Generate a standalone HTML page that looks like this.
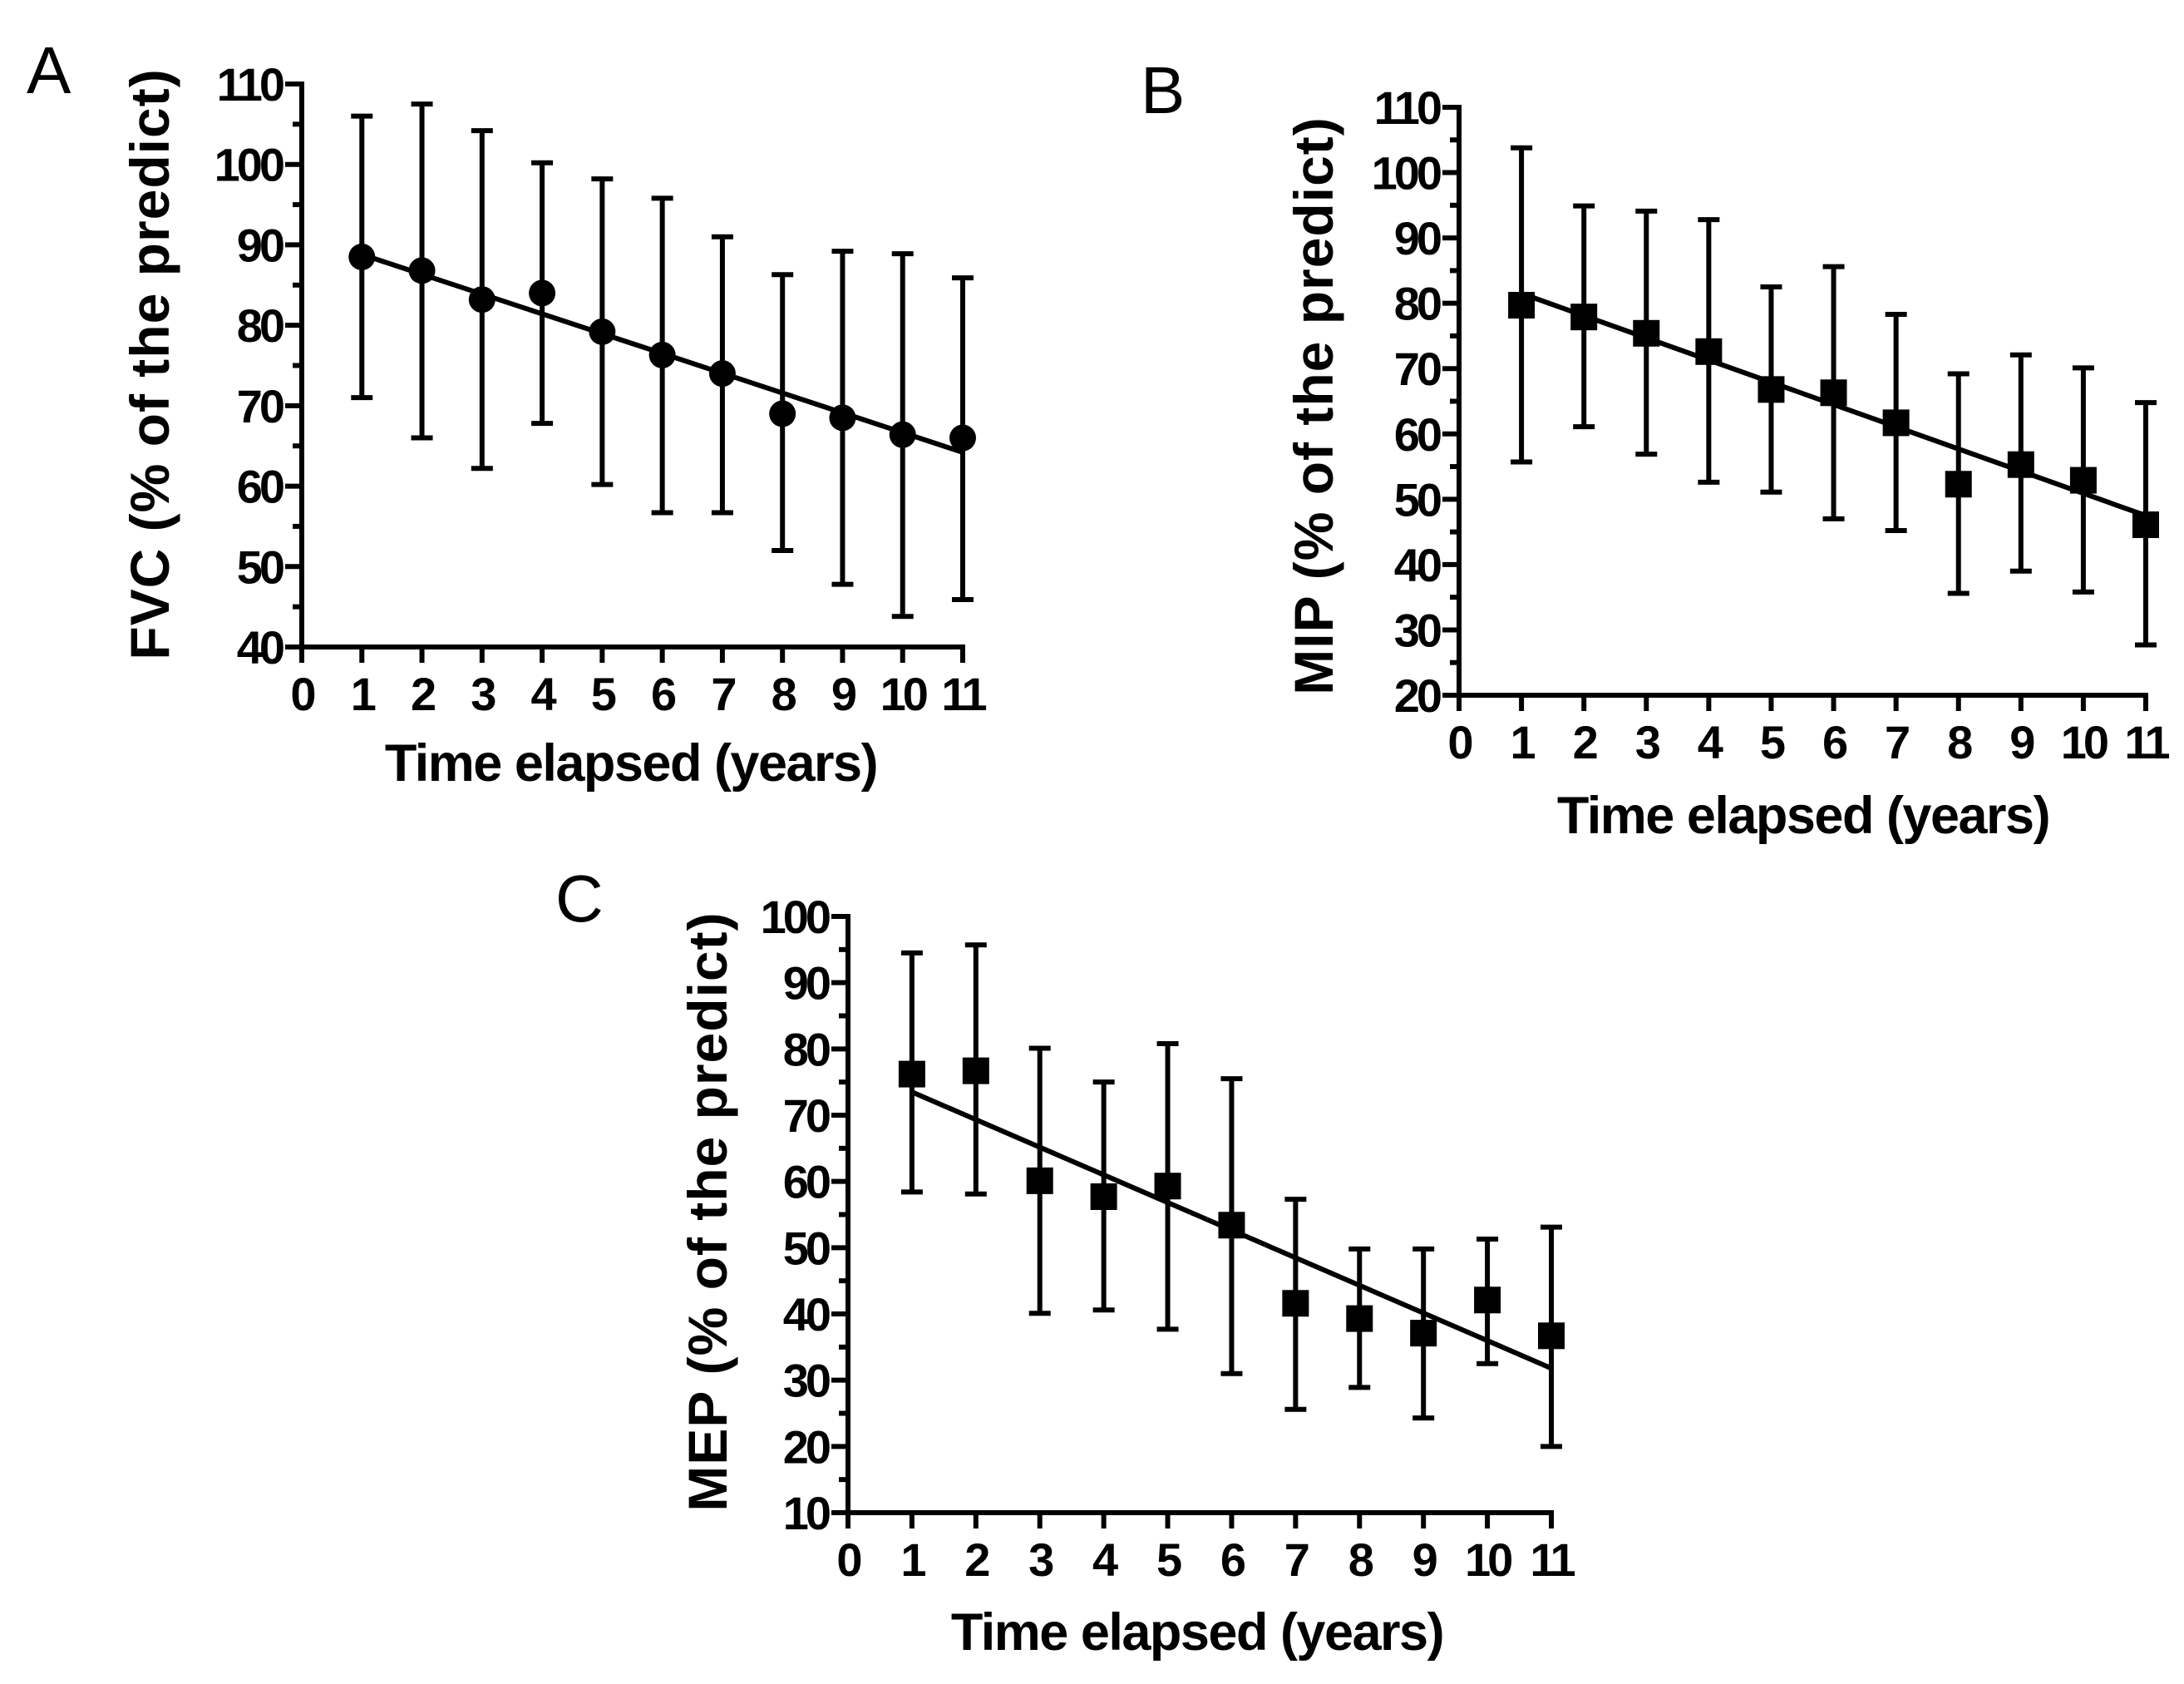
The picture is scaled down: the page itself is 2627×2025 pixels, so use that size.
<!DOCTYPE html>
<html><head><meta charset="utf-8"><style>
html,body{margin:0;padding:0;background:#fff;}
svg{display:block;font-family:"Liberation Sans",Arial,sans-serif;}
</style></head><body>
<svg id="fig" width="2627" height="2025" viewBox="0 0 2627 2025" xmlns="http://www.w3.org/2000/svg"></svg>
<script>
const years = [1,2,3,4,5,6,7,8,9,10,11];
const xTicks = [0,1,2,3,4,5,6,7,8,9,10,11];
const fvcMean = [88.5,86.8,83.2,84,79.2,76.3,74,69,68.5,66.4,66];
const fvcUpper = [106,107.5,104.2,100.2,98.2,95.8,91,86.3,89.2,88.9,85.9];
const fvcLower = [71,66,62.2,67.8,60.2,56.7,56.7,52,47.8,43.8,45.9];
const fvcFit = [88.8,64.2];
const fvcTicks = [40,50,60,70,80,90,100,110];
const mipMean = [79.7,77.9,75.4,72.6,66.8,66.3,61.7,52.3,55.3,52.9,46.1];
const mipUpper = [103.8,94.9,94.1,92.8,82.5,85.6,78.3,69.2,72.1,70.1,64.8];
const mipLower = [55.7,61.1,56.9,52.6,51.1,47,45.2,35.6,39,35.8,27.7];
const mipFit = [81.5,47.5];
const mipTicks = [20,30,40,50,60,70,80,90,100,110];
const mepMean = [76.2,76.7,60.1,57.7,59.3,53.4,41.6,39.3,37.1,42.1,36.7];
const mepUpper = [94.5,95.7,80.1,75,80.8,75.5,57.3,49.8,49.8,51.3,53.1];
const mepLower = [58.4,58.1,40.1,40.6,37.7,31,25.6,28.9,24.3,32.5,20];
const mepFit = [73.5,31.8];
const mepTicks = [10,20,30,40,50,60,70,80,90,100];

const NS="http://www.w3.org/2000/svg";
const svg=document.getElementById('fig');
function mk(tag,attrs,parent){const e=document.createElementNS(NS,tag);for(const k in attrs)e.setAttribute(k,attrs[k]);(parent||svg).appendChild(e);return e;}

function panel(p){
  const g=mk('g',{});
  
  
  const ymin=p.ticks[0], ymax=p.ticks[p.ticks.length-1];
  const X=v=>p.x0+(p.x11-p.x0)*v/11;
  const Y=v=>p.yb+(p.yt-p.yb)*(v-ymin)/(ymax-ymin);
  const L=mk('text',{x:p.lx,y:p.ly,'font-size':80,fill:'#000'},g);L.textContent=p.letter;
  
  
  const ax=mk('g',{stroke:'#000','stroke-width':6,fill:'none'},g);
  
  
  mk('line',{x1:p.x0,y1:p.yt-3,x2:p.x0,y2:p.yb+3},ax);
  mk('line',{x1:p.x0-20,y1:p.yb,x2:p.x11+3,y2:p.yb},ax);
  for(const t of xTicks){mk('line',{x1:X(t),y1:p.yb,x2:X(t),y2:p.yb+19},ax);
    const tx=mk('text',{x:X(t),y:p.yb+76,'font-size':56,'font-weight':'bold','text-anchor':'middle',fill:'#000',stroke:'none','letter-spacing':'-4'},g);tx.textContent=t;
    
    }
  for(let i=0;i<p.ticks.length;i++){const t=p.ticks[i];
    mk('line',{x1:p.x0-20,y1:Y(t),x2:p.x0,y2:Y(t)},ax);
    if(i<p.ticks.length-1) mk('line',{x1:p.x0-11,y1:Y(t+5),x2:p.x0,y2:Y(t+5)},ax);
    const ty=mk('text',{x:p.x0-24,y:Y(t)+20,'font-size':56,'font-weight':'bold','text-anchor':'end',fill:'#000','letter-spacing':'-4'},g);ty.textContent=t;
    
    }
  const xt=mk('text',{x:p.xtx,y:p.xty,'font-size':63,'font-weight':'bold','text-anchor':'middle',fill:'#000','letter-spacing':'-1.5'},g);xt.textContent='Time elapsed (years)';
  
  
  const yt=mk('text',{x:0,y:0,'font-size':66,'font-weight':'bold','text-anchor':'middle',fill:'#000','letter-spacing':'1',transform:`translate(${p.ytx},${p.yty}) rotate(-90)`},g);yt.textContent=p.ytitle;
  
  
  const fl=mk('line',{x1:X(1),y1:Y(p.fit[0]),x2:X(11),y2:Y(p.fit[1]),stroke:'#000','stroke-width':6},g);
  
  
  for(let i=0;i<years.length;i++){const x=X(years[i]);
    const eb=mk('g',{stroke:'#000','stroke-width':6},g);
    
    
    mk('line',{x1:x,y1:Y(p.up[i]),x2:x,y2:Y(p.lo[i])},eb);
    mk('line',{x1:x-13,y1:Y(p.up[i]),x2:x+13,y2:Y(p.up[i])},eb);
    mk('line',{x1:x-13,y1:Y(p.lo[i]),x2:x+13,y2:Y(p.lo[i])},eb);
    let m;
    if(p.shape==='circle') m=mk('circle',{cx:x,cy:Y(p.mean[i]),r:16,fill:'#000'},g);
    else m=mk('rect',{x:x-16,y:Y(p.mean[i])-16,width:32,height:32,fill:'#000'},g);
    
    
  }
}
panel({key:'a',letter:'A',lx:32,ly:112,x0:363,x11:1158,yb:778,yt:101,ticks:fvcTicks,mean:fvcMean,up:fvcUpper,lo:fvcLower,fit:fvcFit,shape:'circle',ytitle:'FVC (% of the predict)',ytx:203,yty:438,xtx:759,xty:939});
panel({key:'b',letter:'B',lx:1372,ly:136,x0:1755,x11:2581,yb:836,yt:129,ticks:mipTicks,mean:mipMean,up:mipUpper,lo:mipLower,fit:mipFit,shape:'square',ytitle:'MIP (% of the predict)',ytx:1603,yty:488,xtx:2169,xty:1002});
panel({key:'c',letter:'C',lx:668,ly:1108,x0:1020,x11:1866,yb:1819,yt:1102,ticks:mepTicks,mean:mepMean,up:mepUpper,lo:mepLower,fit:mepFit,shape:'square',ytitle:'MEP (% of the predict)',ytx:874,yty:1457,xtx:1440,xty:1984});
</script>
</body></html>
